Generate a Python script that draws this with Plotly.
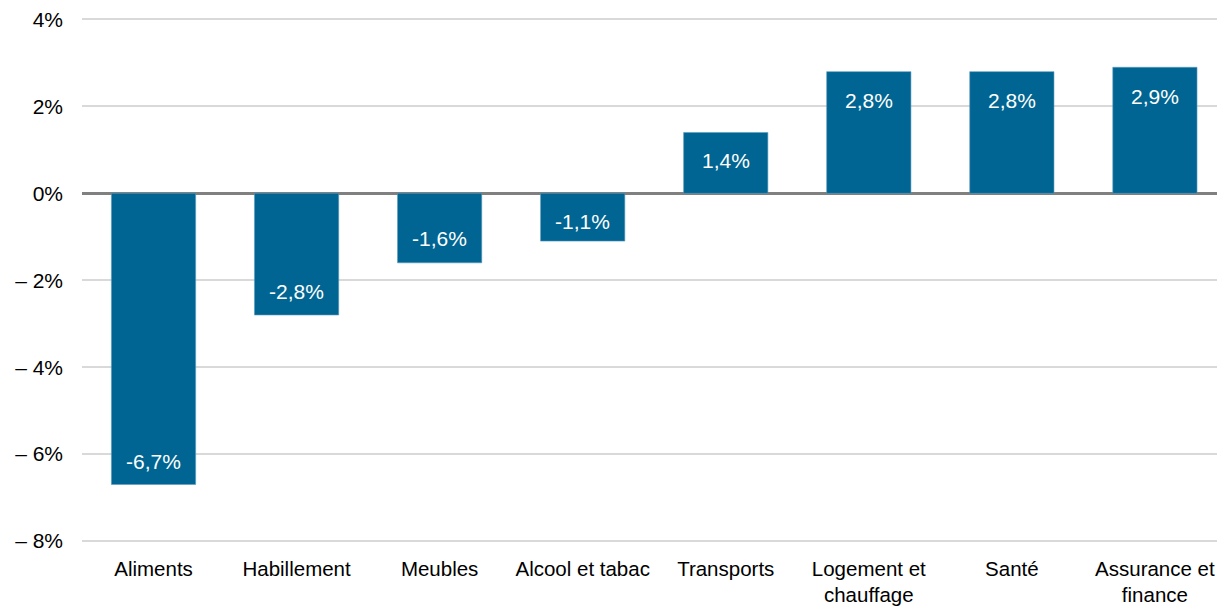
import plotly.graph_objects as go

categories = ["Aliments", "Habillement", "Meubles", "Alcool et tabac", "Transports",
              "Logement et<br>chauffage", "Santé", "Assurance et<br>finance"]
values = [-6.7, -2.8, -1.6, -1.1, 1.4, 2.8, 2.8, 2.9]
labels = [f"{v:.1f}".replace(".", ",") + "%" for v in values]
tick_vals = [4, 2, 0, -2, -4, -6, -8]
tick_text = ["4%", "2%", "0%", "– 2%", "– 4%", "– 6%", "– 8%"]

# pixel offset of each value label from its bar end (style only)
label_shift = [23, 24, 24, 20, -28, -29, -29, -29]

FONT = "Liberation Sans, Arial, sans-serif"

fig = go.Figure(go.Bar(
    x=categories, y=values,
    marker=dict(color="#006592", line=dict(width=0.6, color="#5a9cc0")),
    hoverinfo="x+y",
))

for c, v, t, s in zip(categories, values, labels, label_shift):
    fig.add_annotation(x=c, y=v, text=t, showarrow=False, yanchor="middle",
                       yshift=s, font=dict(color="white", size=21, family=FONT))

fig.update_layout(
    width=1217, height=598,
    margin=dict(l=74, r=0, t=2, b=63),
    plot_bgcolor="white", paper_bgcolor="white",
    bargap=0.411,
    showlegend=False,
    font=dict(family=FONT, size=21, color="black"),
)
fig.update_xaxes(range=[-0.5, 7.49], showgrid=False, showline=False, zeroline=False,
                 ticks="", ticklabelstandoff=11, ticklabeloverflow="allow",
                 tickfont=dict(size=20.5))
fig.update_yaxes(range=[-8.046, 4.172], tickvals=tick_vals, ticktext=tick_text,
                 showgrid=True, gridcolor="#d9d9d9", gridwidth=2,
                 zeroline=True, zerolinecolor="#808080", zerolinewidth=3,
                 showline=False, ticks="", ticklabelstandoff=18,
                 ticklabeloverflow="allow",
                 tickfont=dict(size=21))

fig.write_html("out.html")
